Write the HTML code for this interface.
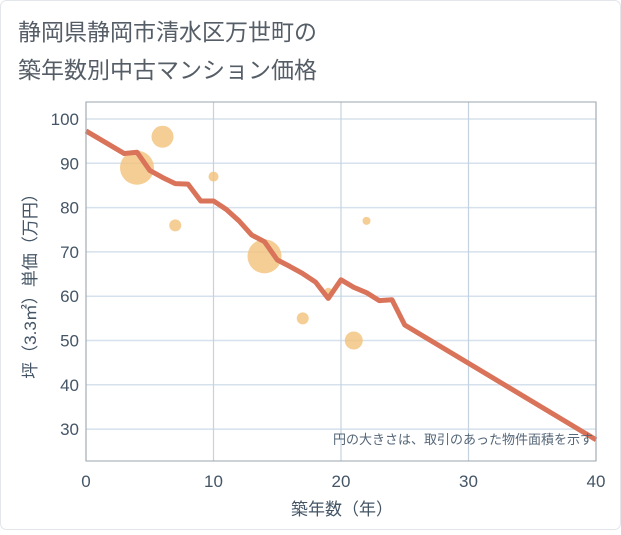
<!DOCTYPE html>
<html><head><meta charset="utf-8"><style>
body{margin:0;background:#fff;}
svg text{font-family:"Liberation Sans","Noto Sans CJK JP",sans-serif;}
</style></head><body>
<svg width="621" height="530" viewBox="0 0 621 530">
<rect x="0.5" y="0.5" width="620" height="529" rx="6" fill="#fff" stroke="#e3e6ea"/>
<text x="18" y="40" font-size="23" fill="#555d66">静岡県静岡市清水区万世町の</text>
<text x="18" y="78" font-size="23" fill="#555d66">築年数別中古マンション価格</text>
<g id="grid"></g>
<g id="bubbles"></g>
<g id="line"></g>
<g id="axes"></g>
<text x="593" y="444" font-size="13" fill="#556677" text-anchor="end">円の大きさは、取引のあった物件面積を示す</text>
<text x="342" y="515" font-size="17" fill="#445566" text-anchor="middle">築年数（年）</text>
<text transform="translate(36,282) rotate(-90)" font-size="17" fill="#445566" text-anchor="middle">坪（3.3㎡）単価（万円）</text>
</svg>
<script>
const xTicks=[0,10,20,30,40];
const yTicks=[30,40,50,60,70,80,90,100];
const lineX=[0,3,4,5,6,7,8,9,10,11,12,13,14,15,16,17,18,19,20,21,22,23,24,25,40];
const lineY=[97.3,92.2,92.5,88.4,86.8,85.4,85.3,81.5,81.5,79.6,77,73.8,72.3,68.2,66.7,65.1,63.2,59.5,63.7,62,60.8,59,59.2,53.5,27.6];
const bubX=[4,6,7,10,14,17,19,21,22];
const bubY=[89,96,76,87,69,55,61,50,77];
const bubR=[17,11,6,5,17,6,4,9,4];
const L=86,R=596,T=102,B=461;
const sx=v=>L+(v-0)*(R-L)/40;
const sy=v=>119+(100-v)*4.43;
const NS="http://www.w3.org/2000/svg";
function mk(t,a,p){const e=document.createElementNS(NS,t);for(const k in a)e.setAttribute(k,a[k]);p.appendChild(e);return e;}
const g=document.getElementById('grid');
yTicks.forEach(v=>{const l=mk('line',{x1:L,x2:R,y1:sy(v),y2:sy(v),stroke:'#d5e1ec','stroke-width':1.5},g);

});
xTicks.forEach(v=>{const l=mk('line',{x1:sx(v),x2:sx(v),y1:T,y2:B,stroke:'#c5d3e0','stroke-width':1.2},g);

});
const bg=document.getElementById('bubbles');
bubX.forEach((x,i)=>{const c=mk('circle',{cx:sx(x),cy:sy(bubY[i]),r:bubR[i],fill:'#f2c27a','fill-opacity':0.8},bg);

});
const lg=document.getElementById('line');
const p=mk('polyline',{points:lineX.map((x,i)=>sx(x)+','+sy(lineY[i])).join(' '),fill:'none',stroke:'#d9735a','stroke-width':5,'stroke-linejoin':'round'},lg);


const ax=document.getElementById('axes');
const fr=mk('rect',{x:L,y:T,width:R-L,height:B-T,fill:'none',stroke:'#9aa4ad','stroke-width':1},ax);


xTicks.forEach(v=>{const t=mk('text',{x:sx(v),y:487,'font-size':17,fill:'#445566','text-anchor':'middle'},ax);t.textContent=v;

});
yTicks.forEach(v=>{const t=mk('text',{x:79,y:sy(v)+6,'font-size':17,fill:'#445566','text-anchor':'end'},ax);t.textContent=v;

});
</script>
</body></html>
